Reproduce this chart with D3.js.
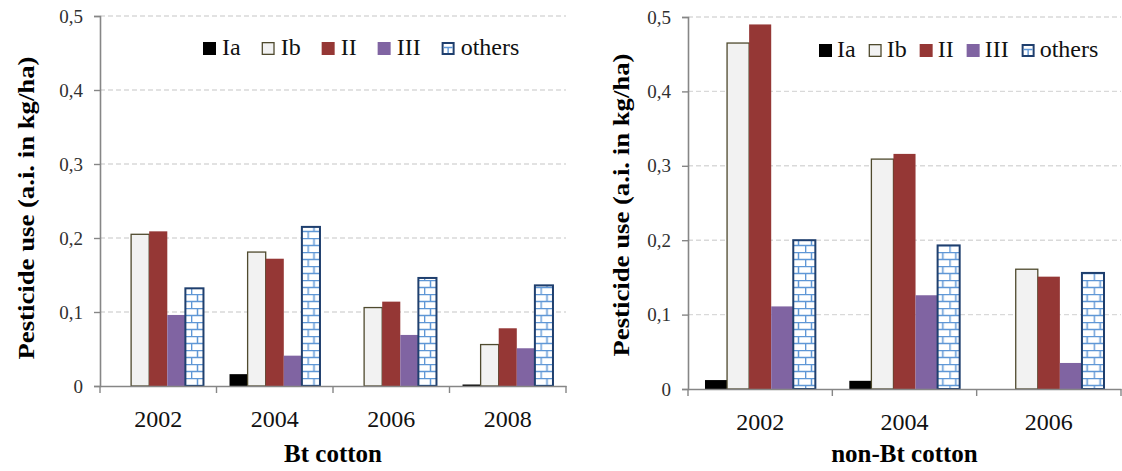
<!DOCTYPE html>
<html>
<head>
<meta charset="utf-8">
<script src="https://cdn.jsdelivr.net/npm/d3@7"></script>
<style>
  body { margin: 0; background: #fff; }
  svg { display: block; }
  text { font-family: "Liberation Serif", "Times New Roman", serif; }
</style>
</head>
<body>
<div id="chart"></div>
<script>
// series (pesticide toxicity classes)
const seriesNames = ["Ia", "Ib", "II", "III", "others"];

// Bt cotton
const btYears = ["2002", "2004", "2006", "2008"];
const btIa = [0, 0.016, 0, 0.002];
const btIb = [0.205, 0.181, 0.106, 0.056];
const btII = [0.209, 0.172, 0.114, 0.078];
const btIII = [0.096, 0.041, 0.069, 0.051];
const btOthers = [0.132, 0.215, 0.146, 0.136];

// non-Bt cotton
const nonBtYears = ["2002", "2004", "2006"];
const nonBtIa = [0.012, 0.011, 0];
const nonBtIb = [0.465, 0.309, 0.161];
const nonBtII = [0.490, 0.316, 0.151];
const nonBtIII = [0.111, 0.126, 0.035];
const nonBtOthers = [0.200, 0.193, 0.156];

const yTicks = [0, 0.1, 0.2, 0.3, 0.4, 0.5];

let width = 1122,
    height = 471;

let svg = d3.select("#chart")
    .append("svg")
    .attr("width", width)
    .attr("height", height);

// brick pattern for "others"
let pat = svg.append("defs").append("pattern")
    .attr("id", "bricks")
    .attr("patternUnits", "userSpaceOnUse")
    .attr("width", 13)
    .attr("height", 14);
pat.append("rect").attr("width", 13).attr("height", 14).attr("fill", "#fff");
pat.append("path")
    .attr("d", "M0,0.6H13M0,7.6H13M6.5,0.6V7.6M0.6,7.6V14.6")
    .attr("stroke", "#5f97d6")
    .attr("stroke-width", 1.5)
    .attr("fill", "none");

let fills = {
    Ia: "#000000",
    Ib: "#f2f2f2",
    II: "#953735",
    III: "#8064a2",
    others: "url(#bricks)"
};
let strokes = {
    Ia: "none",
    Ib: "#4f4a2e",
    II: "none",
    III: "none",
    others: "#1f3f6e"
};
let strokeW = { Ia: 0, Ib: 1.3, II: 0, III: 0, others: 2 };

function fmt(d) {
    return d === 0 ? "0" : d3.format(".1f")(d).replace(".", ",");
}

function drawChart(cfg) {
    let g = svg.append("g");

    let x = d3.scaleBand()
        .domain(cfg.years)
        .range([cfg.x0, cfg.x1]);

    let xs = d3.scaleBand()
        .domain(seriesNames)
        .range([0, x.bandwidth()])
        .paddingOuter(cfg.outer);

    let y = d3.scaleLinear()
        .domain([0, 0.5])
        .range([cfg.y0, cfg.y1]);

    // gridlines
    g.selectAll(".grid")
        .data(yTicks.filter(d => d > 0))
        .enter()
        .append("line")
        .attr("x1", cfg.x0)
        .attr("x2", cfg.x1)
        .attr("y1", d => y(d))
        .attr("y2", d => y(d))
        .style("stroke", "#d9d9d9")
        .style("stroke-width", 1.4)
        .style("stroke-dasharray", "5,3");

    // bars
    let rows = cfg.years.map((yr, i) => ({
        year: yr,
        values: seriesNames.map((s, k) => ({ key: s, value: cfg.series[k][i] }))
    }));

    let groups = g.selectAll(".grp")
        .data(rows)
        .enter()
        .append("g")
        .attr("transform", d => "translate(" + x(d.year) + ",0)");

    groups.selectAll("rect")
        .data(d => d.values)
        .enter()
        .append("rect")
        .attr("x", d => xs(d.key))
        .attr("width", xs.bandwidth())
        .attr("y", d => y(d.value))
        .attr("height", d => cfg.y0 - y(d.value))
        .style("fill", d => fills[d.key])
        .style("stroke", d => strokes[d.key])
        .style("stroke-width", d => strokeW[d.key]);

    // y axis
    let yAxis = g.append("g")
        .attr("transform", "translate(" + cfg.x0 + ",0)")
        .call(d3.axisLeft(y).tickValues(yTicks).tickFormat(fmt).tickSize(6).tickPadding(11));
    yAxis.select(".domain").style("stroke", "#868686").style("stroke-width", 1.6);
    yAxis.selectAll(".tick line").style("stroke", "#868686").style("stroke-width", 1.4);
    yAxis.selectAll(".tick text")
        .style("font-size", "19px")
        .style("font-family", "'Liberation Serif', serif")
        .style("fill", "#303030");

    // x axis
    let xAxis = g.append("g")
        .attr("transform", "translate(0," + cfg.y0 + ")")
        .call(d3.axisBottom(x).tickSize(0).tickPadding(24));
    xAxis.select(".domain").style("stroke", "#868686").style("stroke-width", 1.6);
    xAxis.selectAll(".tick text")
        .style("font-size", "24px")
        .style("font-family", "'Liberation Serif', serif")
        .style("fill", "#111");

    let edges = cfg.years.map(d => x(d)).concat([cfg.x1]);
    xAxis.selectAll(".edge")
        .data(edges)
        .enter()
        .append("line")
        .attr("x1", d => d)
        .attr("x2", d => d)
        .attr("y1", 0)
        .attr("y2", 7)
        .style("stroke", "#868686")
        .style("stroke-width", 1.4);

    // axis titles
    g.append("text")
        .attr("transform", "translate(" + cfg.labelX + "," + cfg.labelY + ") rotate(-90)")
        .attr("text-anchor", "middle")
        .attr("dominant-baseline", "central")
        .attr("textLength", 303)
        .attr("lengthAdjust", "spacingAndGlyphs")
        .style("font-size", "24px")
        .style("font-weight", "bold")
        .text("Pesticide use (a.i. in kg/ha)");

    g.append("text")
        .attr("x", (cfg.x0 + cfg.x1) / 2)
        .attr("y", 462)
        .attr("text-anchor", "middle")
        .style("font-size", "25px")
        .style("font-weight", "bold")
        .text(cfg.title);

    // legend
    let lx = cfg.legendX;
    seriesNames.forEach(function (s) {
        g.append("rect")
            .attr("x", lx + (strokeW[s] ? strokeW[s] / 2 : 0))
            .attr("y", cfg.legendY + (strokeW[s] ? strokeW[s] / 2 : 0))
            .attr("width", 13 - (strokeW[s] || 0))
            .attr("height", 13 - (strokeW[s] || 0))
            .style("fill", s === "others" ? "#fff" : fills[s])
            .style("stroke", strokes[s])
            .style("stroke-width", strokeW[s]);
        if (s === "others") {
            g.append("path")
                .attr("d", "M" + (lx + 2) + "," + (cfg.legendY + 5.5) + "H" + (lx + 11) +
                    "M" + (lx + 6.5) + "," + (cfg.legendY + 5.5) + "V" + (cfg.legendY + 11))
                .style("stroke", "#5f97d6")
                .style("stroke-width", 1.4);
        }
        let t = g.append("text")
            .attr("x", lx + 13 + cfg.legendPad)
            .attr("y", cfg.legendY + 13)
            .style("font-size", "24px")
            .style("fill", "#111")
            .text(s);
        lx += 13 + cfg.legendPad + t.node().getComputedTextLength() + cfg.legendGap;
    });
}

drawChart({
    years: btYears,
    series: [btIa, btIb, btII, btIII, btOthers],
    x0: 100, x1: 566, y0: 386, y1: 16,
    outer: 0.72,
    labelX: 26, labelY: 208,
    title: "Bt cotton",
    legendX: 203, legendY: 42, legendPad: 6, legendGap: 21
});

drawChart({
    years: nonBtYears,
    series: [nonBtIa, nonBtIb, nonBtII, nonBtIII, nonBtOthers],
    x0: 688, x1: 1121, y0: 389, y1: 17,
    outer: 0.77,
    labelX: 621, labelY: 205,
    title: "non-Bt cotton",
    legendX: 819, legendY: 44, legendPad: 5, legendGap: 13
});
</script>
</body>
</html>
